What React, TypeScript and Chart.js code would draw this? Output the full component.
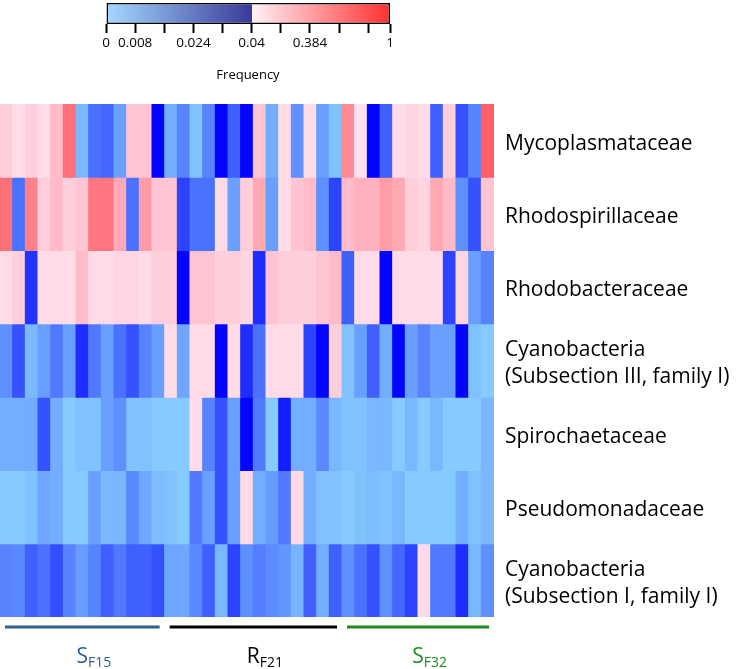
import React, { useEffect, useRef } from 'react';
import { Chart, registerables } from 'chart.js';

Chart.register(...registerables);

// ---------- data ----------
const ROW_LABELS: (string | string[])[] = [
  'Mycoplasmataceae',
  'Rhodospirillaceae',
  'Rhodobacteraceae',
  ['Cyanobacteria', '(Subsection III, family I)'],
  'Spirochaetaceae',
  'Pseudomonadaceae',
  ['Cyanobacteria', '(Subsection I, family I)'],
];

const GROUP_NAMES = ['S', 'R', 'S'];
const GROUP_SUBS = ['F15', 'F21', 'F32'];
const GROUP_SIZES = [13, 14, 12];
const GROUP_COLORS = ['#2F5E96', '#000000', '#1E8C1E'];

const MYCOPLASMATACEAE = [0.15, 0.08, 0.15, 0.08, 0.25, 0.66, 0.0045, 0.018, 0.02, 0.009, 0.2, 0.2, 0.039, 0.0065, 0.0145, 0.0025, 0.0145, 0.039, 0.0215, 0.039, 0.2, 0.0065, 0.08, 0.012, 0.08, 0.009, 0.0025, 0.52, 0.045, 0.039, 0.0215, 0.08, 0.11, 0.08, 0.0215, 0.15, 0.024, 0.0145, 0.75];
const RHODOSPIRILLACEAE = [0.66, 0.018, 0.57, 0.15, 0.25, 0.15, 0.2, 0.62, 0.62, 0.35, 0.018, 0.42, 0.2, 0.2, 0.027, 0.018, 0.018, 0.08, 0.009, 0.15, 0.35, 0.009, 0.08, 0.2, 0.25, 0.012, 0.027, 0.25, 0.3, 0.3, 0.42, 0.35, 0.15, 0.11, 0.35, 0.25, 0.012, 0.024, 0.2];
const RHODOBACTERACEAE = [0.08, 0.15, 0.03, 0.08, 0.08, 0.08, 0.25, 0.08, 0.08, 0.11, 0.11, 0.08, 0.15, 0.15, 0.039, 0.2, 0.2, 0.15, 0.15, 0.11, 0.031, 0.2, 0.15, 0.15, 0.15, 0.2, 0.25, 0.0215, 0.08, 0.08, 0.039, 0.08, 0.08, 0.08, 0.08, 0.027, 0.11, 0.009, 0.0145];
const CYANO_III = [0.012, 0.024, 0.004, 0.009, 0.0165, 0.009, 0.031, 0.0165, 0.009, 0.018, 0.024, 0.0145, 0.009, 0.08, 0.008, 0.08, 0.08, 0.039, 0.08, 0.031, 0.018, 0.08, 0.08, 0.08, 0.027, 0.039, 0.15, 0.0025, 0.009, 0.0215, 0.0065, 0.039, 0.009, 0.0145, 0.009, 0.009, 0.039, 0.0025, 0.0005];
const SPIROCHAETACEAE = [0.0065, 0.0065, 0.0065, 0.024, 0.0065, 0.0005, 0.0025, 0.0025, 0.009, 0.012, 0.0025, 0.0025, 0.0005, 0.0005, 0.0005, 0.08, 0.0145, 0.024, 0.009, 0.039, 0.0165, 0.0005, 0.034, 0.0065, 0.0065, 0.0135, 0.0045, 0.0025, 0.0025, 0.0045, 0.0045, 0.0005, 0.0045, 0.0005, 0.0045, 0.0005, 0.0005, 0.0005, 0.0045];
const PSEUDOMONADACEAE = [0.0005, 0.0005, 0.0025, 0.0075, 0.0065, 0.0005, 0.0005, 0.009, 0.0045, 0.0045, 0.0135, 0.0075, 0.0035, 0.0025, 0.0005, 0.0165, 0.009, 0.024, 0.009, 0.08, 0.0065, 0.01, 0.0165, 0.08, 0.0065, 0.0025, 0.0025, 0.0005, 0.0025, 0.0035, 0.0025, 0.0045, 0.0005, 0.0005, 0.0005, 0.0005, 0.0065, 0.0025, 0.0045];
const CYANO_I = [0.0145, 0.0135, 0.0215, 0.018, 0.025, 0.0145, 0.0095, 0.0145, 0.0215, 0.0165, 0.0215, 0.0215, 0.024, 0.0075, 0.0075, 0.0135, 0.0215, 0.0045, 0.027, 0.012, 0.0155, 0.013, 0.011, 0.005, 0.0215, 0.0065, 0.0215, 0.012, 0.018, 0.024, 0.012, 0.02, 0.027, 0.08, 0.0165, 0.0165, 0.031, 0.0045, 0.012];

const ROWS = [MYCOPLASMATACEAE, RHODOSPIRILLACEAE, RHODOBACTERACEAE, CYANO_III, SPIROCHAETACEAE, PSEUDOMONADACEAE, CYANO_I];

// colour bar ticks (positions in tick-interval units)
const CB_TICK_POS = [0, 1, 2, 3, 4, 5, 6, 7, 8, 9, 9.75];
const CB_TICK_LABELS = ['0', '0.008', '', '0.024', '', '0.04', '', '0.384', '', '', '1'];
const CB_MAX = 9.75;
const CB_SPLIT = 5;

const FONT = '"Open Sans", "DejaVu Sans", sans-serif';

function cellColor(v: number): string {
  if (v < 0.04) {
    const t = v / 0.04;
    return `rgb(${Math.round(136 * (1 - t))},${Math.round(206 * (1 - t))},255)`;
  }
  const t = (v - 0.04) / 0.96;
  return `rgb(255,${Math.round(226 - 178 * t)},${Math.round(240 - 184 * t)})`;
}

const SAMPLES: string[] = GROUP_SIZES.flatMap((n, g) =>
  Array.from({ length: n }, (_, k) => `${GROUP_NAMES[g]}${GROUP_SUBS[g]}-${k + 1}`)
);

const groupPlugin = {
  id: 'groupBars',
  afterDraw(chart: any) {
    const xs = chart.scales.x;
    const ctx = chart.ctx;
    const half = (xs.getPixelForValue(1) - xs.getPixelForValue(0)) / 2;
    const bottom = chart.chartArea.bottom;
    let start = 0;
    GROUP_SIZES.forEach((n, g) => {
      const x0 = xs.getPixelForValue(start) - half;
      const x1 = xs.getPixelForValue(start + n - 1) + half;
      ctx.save();
      ctx.strokeStyle = GROUP_COLORS[g];
      ctx.lineWidth = 3;
      ctx.beginPath();
      ctx.moveTo(x0 + 5, bottom + 10);
      ctx.lineTo(x1 - 5, bottom + 10);
      ctx.stroke();
      const cx = (x0 + x1) / 2;
      ctx.fillStyle = GROUP_COLORS[g];
      ctx.font = `21px ${FONT}`;
      ctx.textBaseline = 'alphabetic';
      ctx.textAlign = 'center';
      ctx.fillText(GROUP_NAMES[g], cx, bottom + 46);
      const w = ctx.measureText(GROUP_NAMES[g]).width;
      ctx.font = `14px ${FONT}`;
      ctx.textAlign = 'left';
      ctx.fillText(GROUP_SUBS[g], cx + w / 2, bottom + 50);
      ctx.restore();
      start += n;
    });
  },
};

export default function App() {
  const heatRef = useRef<HTMLCanvasElement>(null);
  const cbRef = useRef<HTMLCanvasElement>(null);

  useEffect(() => {
    const heat = new Chart(heatRef.current as HTMLCanvasElement, {
      type: 'bar',
      data: {
        labels: SAMPLES,
        datasets: ROWS.map((row, i) => ({
          label: Array.isArray(ROW_LABELS[i]) ? (ROW_LABELS[i] as string[]).join(' ') : (ROW_LABELS[i] as string),
          data: row.map(() => [i, i + 1]),
          backgroundColor: row.map(cellColor),
          borderWidth: 0,
          barPercentage: 1,
          categoryPercentage: 1,
          grouped: false,
          inflateAmount: 0.5,
        })) as any,
      },
      options: {
        animation: false,
        responsive: false,
        maintainAspectRatio: false,
        layout: { padding: { top: 104, bottom: 52, left: 0, right: 0 } },
        plugins: { legend: { display: false }, tooltip: { enabled: false } },
        scales: {
          x: { display: false, offset: true },
          y: { type: 'linear', min: 0, max: 7, reverse: true, display: false },
          yr: {
            type: 'category',
            labels: ROW_LABELS as any,
            position: 'right',
            offset: true,
            grid: { display: false, drawTicks: false },
            border: { display: false },
            ticks: {
              autoSkip: false,
              crossAlign: 'near',
              padding: 11,
              labelOffset: 3,
              color: '#000',
              font: { family: FONT, size: 21, lineHeight: 1.3 },
            },
            afterFit: (s: any) => {
              s.width = 244;
            },
          },
        } as any,
      },
      plugins: [groupPlugin],
    });

    const cb = new Chart(cbRef.current as HTMLCanvasElement, {
      type: 'bar',
      data: {
        labels: ['Frequency'],
        datasets: [
          {
            data: [[0, CB_MAX]] as any,
            backgroundColor: (c: any) => {
              const chart = c.chart;
              const a = chart.chartArea;
              if (!a) return 'transparent';
              const g = chart.ctx.createLinearGradient(a.left, 0, a.right, 0);
              const s = CB_SPLIT / CB_MAX;
              g.addColorStop(0, 'rgb(165,218,255)');
              g.addColorStop(s - 0.0005, 'rgb(58,58,155)');
              g.addColorStop(s, 'rgb(255,242,250)');
              g.addColorStop(1, 'rgb(255,48,48)');
              return g;
            },
            borderColor: '#000',
            borderWidth: 1.5,
            borderSkipped: false,
            barPercentage: 1,
            categoryPercentage: 1,
            inflateAmount: 0,
          } as any,
        ],
      },
      options: {
        indexAxis: 'y',
        animation: false,
        responsive: false,
        maintainAspectRatio: false,
        layout: { padding: { left: 106, right: 348, top: 3, bottom: 0 } },
        plugins: { legend: { display: false }, tooltip: { enabled: false } },
        scales: {
          x: {
            type: 'linear',
            min: 0,
            max: CB_MAX,
            afterBuildTicks: (s: any) => {
              s.ticks = CB_TICK_POS.map((v) => ({ value: v }));
            },
            afterFit: (s: any) => {
              s.height = 59;
            },
            grid: { drawOnChartArea: false, drawTicks: true, tickLength: 9, tickColor: '#000', tickWidth: 2 },
            border: { display: false },
            ticks: {
              autoSkip: false,
              maxRotation: 0,
              padding: 2,
              color: '#000',
              font: { family: FONT, size: 13.5 },
              callback: (_v: any, i: number) => CB_TICK_LABELS[i],
            },
            title: {
              display: true,
              text: 'Frequency',
              color: '#000',
              font: { family: FONT, size: 13 },
              padding: { top: 14, bottom: 0 },
            },
          },
          y: { display: false },
        } as any,
      },
    });

    return () => {
      heat.destroy();
      cb.destroy();
    };
  }, []);

  return (
    <div style={{ position: 'absolute', left: 0, top: 0, width: 738, height: 669, background: '#fff' }}>
      <canvas ref={heatRef} width={738} height={669} style={{ position: 'absolute', left: 0, top: 0 }} />
      <canvas ref={cbRef} width={738} height={83} style={{ position: 'absolute', left: 0, top: 0 }} />
    </div>
  );
}
